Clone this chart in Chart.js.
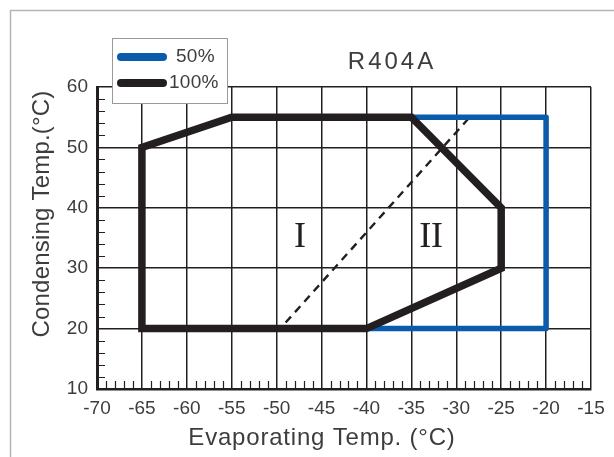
<!DOCTYPE html>
<html>
<head>
<meta charset="utf-8">
<script src="https://cdn.jsdelivr.net/npm/chart.js@4.4.1/dist/chart.umd.min.js"></script>
<style>
  html, body { margin: 0; padding: 0; background: #fff; }
  #wrap { width: 614px; height: 457px; position: relative; }
</style>
</head>
<body>
<div id="wrap"><canvas id="envelope"></canvas></div>
<script>
// operating envelope R404A
const outline100X = [-65, -65, -55, -35, -25, -25, -40, -65];
const outline100Y = [20, 50, 55, 55, 40, 30, 20, 20];
const outline50X = [-35, -20, -20, -40];
const outline50Y = [55, 55, 20, 20];
const dividerX = [-49, -28.5];
const dividerY = [21, 55];
const xRange = [-70, -15];
const yRange = [10, 60];
const zoneLabels = ['I', 'II'];
const zoneX = [-47.4, -32.8];
const zoneY = [35, 35];
const seriesNames = ['50%', '100%'];

const ink = '#231f20';
const blue = '#0a5bab';
const textCol = '#3d3d3d';

function pts(xs, ys) {
    return xs.map((x, i) => ({ x: x, y: ys[i] }));
}

const decor = {
    id: 'decor',
    beforeDraw(chart) {
        const c = chart.ctx;
        c.save();
        c.fillStyle = '#fff';
        c.fillRect(0, 0, chart.width, chart.height);
        c.strokeStyle = '#b4b4b4';
        c.lineWidth = 1.5;
        c.beginPath();
        c.moveTo(10.5, chart.height);
        c.lineTo(10.5, 10.5);
        c.lineTo(chart.width, 10.5);
        c.stroke();
        c.restore();
    },
    afterDatasetsDraw(chart) {
        const c = chart.ctx;
        const xs = chart.scales.x, ys = chart.scales.y;
        const a = chart.chartArea;
        c.save();
        // minor ticks inside the axes
        c.strokeStyle = ink;
        c.lineWidth = 1.2;
        c.beginPath();
        xs.ticks.forEach(t => {
            if (t.value % 5 !== 0) {
                const px = Math.round(xs.getPixelForValue(t.value)) + 0.5;
                c.moveTo(px, a.bottom);
                c.lineTo(px, a.bottom - 8);
            }
        });
        ys.ticks.forEach(t => {
            if (t.value % 10 !== 0) {
                const py = Math.round(ys.getPixelForValue(t.value)) + 0.5;
                c.moveTo(a.left, py);
                c.lineTo(a.left + 8, py);
            }
        });
        c.stroke();

        // zone labels
        c.fillStyle = ink;
        c.font = '36px "Liberation Serif", "DejaVu Serif", serif';
        c.textAlign = 'center';
        c.textBaseline = 'middle';
        zoneLabels.forEach((s, i) => {
            c.fillText(s, xs.getPixelForValue(zoneX[i]), ys.getPixelForValue(zoneY[i]));
        });

        // title
        c.fillStyle = textCol;
        c.font = '24px "Liberation Sans", Arial, sans-serif';
        c.letterSpacing = '3px';
        c.fillText('R404A', 392, 62);
        c.letterSpacing = '0px';

        // axis titles
        c.font = '24px "Liberation Sans", Arial, sans-serif';
        c.letterSpacing = '0.8px';
        c.fillText('Evaporating Temp. (°C)', 322, 438);
        c.letterSpacing = '0.2px';
        c.save();
        c.translate(42, 214);
        c.rotate(-Math.PI / 2);
        c.fillText('Condensing Temp.(°C)', 0, 0);
        c.restore();
        c.letterSpacing = '0px';

        // legend box
        c.fillStyle = '#fff';
        c.fillRect(112, 38, 115, 65);
        c.strokeStyle = '#9a9a9a';
        c.lineWidth = 1;
        c.strokeRect(112.5, 38.5, 115, 65);
        const legendCols = [chart.data.datasets[1].borderColor, chart.data.datasets[0].borderColor];
        const rowsY = [57, 83];
        c.lineCap = 'round';
        c.lineWidth = 8;
        rowsY.forEach((y, i) => {
            c.strokeStyle = legendCols[i];
            c.beginPath();
            c.moveTo(121, y);
            c.lineTo(163, y);
            c.stroke();
        });
        c.fillStyle = textCol;
        c.font = '19px "Liberation Sans", Arial, sans-serif';
        c.textAlign = 'left';
        c.letterSpacing = '0.3px';
        c.fillText(seriesNames[0], 176, rowsY[0]);
        c.fillText(seriesNames[1], 169, rowsY[1]);
        c.restore();
    }
};

const ctx = document.getElementById('envelope').getContext('2d');
const chart = new Chart(ctx, {
    type: 'scatter',
    data: {
        datasets: [
            {
                label: seriesNames[1],
                data: pts(outline100X, outline100Y),
                showLine: true,
                borderColor: ink,
                borderWidth: 7.5,
                borderJoinStyle: 'miter',
                borderCapStyle: 'square',
                pointRadius: 0,
                order: 0
            },
            {
                label: seriesNames[0],
                data: pts(outline50X, outline50Y),
                showLine: true,
                borderColor: blue,
                borderWidth: 5.5,
                borderJoinStyle: 'round',
                pointRadius: 0,
                order: 1
            },
            {
                label: 'divider',
                data: pts(dividerX, dividerY),
                showLine: true,
                borderColor: ink,
                borderWidth: 2.4,
                borderDash: [8, 6],
                pointRadius: 0,
                order: 2
            }
        ]
    },
    options: {
        responsive: true,
        maintainAspectRatio: false,
        animation: false,
        layout: { padding: { left: 0, top: 87, right: 23, bottom: 0 } },
        plugins: {
            legend: { display: false },
            tooltip: { enabled: false }
        },
        scales: {
            x: {
                type: 'linear',
                min: xRange[0],
                max: xRange[1],
                afterFit(scale) { scale.height = 68; },
                ticks: {
                    stepSize: 1,
                    autoSkip: false,
                    maxRotation: 0,
                    minRotation: 0,
                    padding: 8,
                    color: textCol,
                    font: { family: '"Liberation Sans", Arial, sans-serif', size: 19 },
                    callback: v => (v % 5 === 0 ? String(v) : '')
                },
                grid: {
                    drawTicks: false,
                    lineWidth: 1.5,
                    color: c => (c.tick && c.tick.value % 5 === 0 ? ink : 'rgba(0,0,0,0)')
                },
                border: { display: true, color: ink, width: 2.5 }
            },
            y: {
                type: 'linear',
                min: yRange[0],
                max: yRange[1],
                afterFit(scale) { scale.width = 97; },
                ticks: {
                    stepSize: 2,
                    autoSkip: false,
                    padding: 9,
                    color: textCol,
                    font: { family: '"Liberation Sans", Arial, sans-serif', size: 19 },
                    callback: v => (v % 10 === 0 ? String(v) : '')
                },
                grid: {
                    drawTicks: false,
                    lineWidth: 1.5,
                    color: c => (c.tick && c.tick.value % 10 === 0 ? ink : 'rgba(0,0,0,0)')
                },
                border: { display: true, color: ink, width: 3 }
            }
        }
    },
    plugins: [decor]
});
</script>
</body>
</html>
